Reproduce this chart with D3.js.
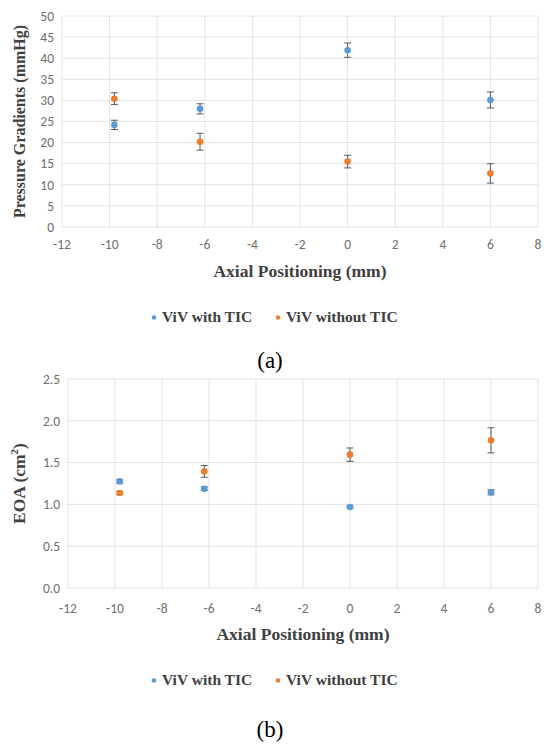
<!DOCTYPE html>
<html><head><meta charset="utf-8">
<script src="https://cdn.jsdelivr.net/npm/d3@7"></script>
<style>body{margin:0;background:#fff}svg{display:block}</style>
</head><body>
<svg id="c" width="556" height="745"></svg>
<script>
const xTicks = [-12,-10,-8,-6,-4,-2,0,2,4,6,8];
const positions = [-9.8,-6.2,0,6];
const seriesNames = ["ViV with TIC","ViV without TIC"];
const colors = ["#5B9BD5","#ED7D31"];
// Panel (a) Pressure gradients
const pgWith = [24.2,28.0,41.9,30.1];
const pgWithErr = [1.1,1.2,1.7,1.9];
const pgWithout = [30.4,20.2,15.5,12.7];
const pgWithoutErr = [1.4,2.0,1.5,2.3];
const pgTicks = [0,5,10,15,20,25,30,35,40,45,50];
// Panel (b) EOA
const eoaWith = [1.275,1.188,0.969,1.144];
const eoaWithErr = [0.02,0.02,0.015,0.03];
const eoaWithout = [1.136,1.395,1.595,1.766];
const eoaWithoutErr = [0.02,0.07,0.08,0.15];
const eoaTicks = [0,0.5,1.0,1.5,2.0,2.5];

const svg = d3.select("#c");
const gridC = "#e3e3e3", tickC = "#707070", titleC = "#404040";

function panel(o){
  const x = d3.scaleLinear().domain([-12,8]).range([o.x0,o.x1]);
  const y = d3.scaleLinear().domain([o.yTicks[0],o.yTicks[o.yTicks.length-1]]).range([o.y0,o.y1]);
  const g = svg.append("g");
  g.selectAll(".hg").data(o.yTicks).join("line")
    .attr("x1",o.x0).attr("x2",o.x1).attr("y1",d=>y(d)).attr("y2",d=>y(d))
    .attr("stroke",gridC).attr("stroke-width",1);
  g.selectAll(".vg").data(xTicks).join("line")
    .attr("y1",o.y0).attr("y2",o.y1).attr("x1",d=>x(d)).attr("x2",d=>x(d))
    .attr("stroke",gridC).attr("stroke-width",1);
  g.selectAll(".yl").data(o.yTicks).join("text")
    .attr("x",o.x0-8).attr("y",d=>y(d)).attr("dy","0.35em")
    .attr("text-anchor","end").attr("font-family","Carlito, 'Open Sans', sans-serif")
    .attr("font-size",13.5).attr("fill",tickC).text(d=>o.fmt(d));
  g.selectAll(".xl").data(xTicks).join("text")
    .attr("x",d=>x(d)).attr("y",o.xlY).attr("text-anchor","middle")
    .attr("font-family","Carlito, 'Open Sans', sans-serif")
    .attr("font-size",13.5).attr("fill",tickC).text(d=>d);
  g.append("text").attr("x",(o.x0+o.x1)/2).attr("y",o.xtY).attr("text-anchor","middle")
    .attr("font-family","'Liberation Serif', serif").attr("font-weight","bold")
    .attr("font-size",17.5).attr("fill",titleC).text("Axial Positioning (mm)");
  const yt = g.append("text").attr("transform",`translate(${o.ytX},${(o.y0+o.y1)/2}) rotate(-90)`)
    .attr("text-anchor","middle").attr("font-family","'Liberation Serif', serif")
    .attr("font-weight","bold").attr("font-size",o.ytSize).attr("fill",titleC);
  o.yTitle(yt);
  o.series.forEach((s,si)=>{
    const pts = positions.map((p,i)=>({x:p,v:s.v[i],e:s.e[i]}));
    const eg = g.append("g");
    eg.selectAll("line.v").data(pts).join("line")
      .attr("x1",d=>x(d.x)).attr("x2",d=>x(d.x)).attr("y1",d=>y(d.v-d.e)).attr("y2",d=>y(d.v+d.e))
      .attr("stroke","#595959").attr("stroke-width",1);
    eg.selectAll("line.t").data(pts).join("line")
      .attr("x1",d=>x(d.x)-3.5).attr("x2",d=>x(d.x)+3.5).attr("y1",d=>y(d.v+d.e)).attr("y2",d=>y(d.v+d.e))
      .attr("stroke","#595959").attr("stroke-width",1);
    eg.selectAll("line.b").data(pts).join("line")
      .attr("x1",d=>x(d.x)-3.5).attr("x2",d=>x(d.x)+3.5).attr("y1",d=>y(d.v-d.e)).attr("y2",d=>y(d.v-d.e))
      .attr("stroke","#595959").attr("stroke-width",1);
    g.append("g").selectAll("circle").data(pts).join("circle")
      .attr("cx",d=>x(d.x)).attr("cy",d=>y(d.v)).attr("r",3.3).attr("fill",colors[si]);
  });
  const lg = g.append("g");
  const lx = [154,278];
  seriesNames.forEach((n,i)=>{
    lg.append("circle").attr("cx",lx[i]).attr("cy",o.legY-4.5).attr("r",2.3).attr("fill",colors[i]);
    lg.append("text").attr("x",lx[i]+8).attr("y",o.legY).attr("font-family","'Liberation Serif', serif")
      .attr("font-weight","bold").attr("font-size",15.5).attr("fill",titleC).text(n);
  });
  svg.append("text").attr("x",270).attr("y",o.capY).attr("text-anchor","middle")
    .attr("font-family","'Liberation Serif', serif").attr("font-size",23).attr("fill","#000").text(o.cap);
}

panel({x0:62,x1:538,y0:227,y1:16,yTicks:pgTicks,fmt:d=>d,xlY:249,xtY:277,ytX:25,ytSize:16,
  yTitle:t=>t.text("Pressure Gradients (mmHg)"),
  series:[{v:pgWith,e:pgWithErr},{v:pgWithout,e:pgWithoutErr}],legY:322,cap:"(a)",capY:368});

panel({x0:68,x1:538,y0:588,y1:379,yTicks:eoaTicks,fmt:d3.format(".1f"),xlY:613,xtY:640,ytX:25,ytSize:17.5,
  yTitle:t=>{t.append("tspan").text("EOA (cm");t.append("tspan").attr("font-size",11).attr("dy",-7).text("2");t.append("tspan").attr("dy",7).text(")");},
  series:[{v:eoaWith,e:eoaWithErr},{v:eoaWithout,e:eoaWithoutErr}],legY:685,cap:"(b)",capY:737});
</script>
</body></html>
